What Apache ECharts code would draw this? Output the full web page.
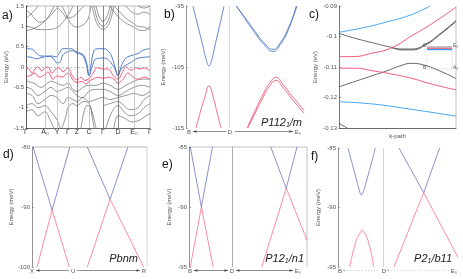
<!DOCTYPE html>
<html><head><meta charset="utf-8">
<script src="https://cdn.jsdelivr.net/npm/echarts@6/dist/echarts.min.js"></script>
<style>html,body{margin:0;padding:0;background:#fff}#c{width:463px;height:279px}</style>
</head><body><div id="c"></div>
<script>
// ---------- Panel a : band structure (eV) ----------
const aTicks = [0,19,31,42,51,63,77,92,108,124];
const aTickLabels = ['Γ','A₀','Y','Γ','Z','C','Γ','D','E₀','Γ'];
const aDark = [51,77,92];
const aBlue1 = [[0,.45],[6,.44],[10,.35],[15,.27],[26,.27],[30,.25],[33,.33],[37,.45],[45,.45],[50,.38],[55,.33],[58,.28],[61,.05],[63,-.2],[65,.05],[68,.4],[72,.45],[78,.45],[81,.42],[85,.3],[89,0],[92,-.2],[95,0],[99,.2],[105,.28],[112,.33],[118,.42],[124,.45]];
const aBlue2 = [[0,.25],[5,.24],[10,.2],[15,.23],[22,.26],[27,.22],[31,.1],[34,.12],[37,.3],[42,.38],[47,.4],[51,.34],[56,.3],[60,.1],[63,-.22],[66,0],[70,.2],[77,.22],[81,.2],[85,.1],[89,-.05],[92,-.22],[95,-.05],[99,.03],[104,.1],[110,.2],[118,.24],[124,.25]];
const aRed1 = [[0,-.02],[3,-.05],[6,-.15],[9,-.05],[12,0],[16,-.1],[19,-.02],[22,0],[26,-.15],[30,-.05],[33,-.02],[37,-.12],[42,-.02],[46,-.2],[51,-.32],[55,-.25],[59,-.33],[63,-.28],[67,-.15],[71,-.02],[77,-.05],[82,-.05],[87,-.2],[92,-.3],[96,-.15],[100,0],[105,-.08],[110,-.02],[114,-.05],[118,-.02],[124,-.1]];
const aRed2 = [[0,-.25],[5,-.2],[9,-.15],[13,-.25],[18,-.2],[22,-.12],[27,-.3],[31,-.22],[36,-.25],[42,-.15],[47,-.32],[51,-.38],[56,-.35],[60,-.42],[63,-.35],[67,-.3],[72,-.25],[77,-.28],[83,-.25],[88,-.3],[92,-.4],[97,-.3],[102,-.15],[107,-.25],[112,-.3],[118,-.25],[124,-.3]];
const aBlack = [
 [[0,1.0],[5,.98],[10,.93],[18,.92],[26,.93],[31,.97],[35,1.05],[40,1.2],[44,1.35],[47,1.5]],
 [[0,.9],[5,.92],[10,.97],[15,1.05],[20,1.15],[26,1.3],[30,1.42],[33,1.5]],
 [[0,1.2],[4,1.28],[8,1.38],[12,1.5]],
 [[0,1.4],[5,1.3],[9,1.18],[14,1.1],[19,1.15],[24,1.3],[28,1.5]],
 [[36,1.5],[40,1.3],[44,1.1],[48,1.0],[51,.98],[56,1.02],[60,1.1],[63,1.25],[65,1.5]],
 [[30,1.5],[36,1.35],[42,1.2],[48,1.25],[54,1.4],[58,1.5]],
 [[66,1.5],[69,1.2],[72,1.02],[77,.93],[82,1.02],[85,1.2],[88,1.5]],
 [[68,1.5],[71,1.2],[74,1.05],[77,1.0],[80,1.05],[83,1.2],[86,1.5]],
 [[70,1.5],[73,1.25],[77,1.12],[81,1.25],[84,1.5]],
 [[84,1.5],[90,1.3],[96,1.15],[102,1.05],[108,.98],[114,.9],[119,.9],[124,1.0]],
 [[88,1.5],[94,1.35],[100,1.2],[106,1.1],[112,1.0],[118,.98],[124,.92]],
 [[100,1.5],[106,1.35],[112,1.3],[118,1.35],[124,1.3]],
 [[112,1.5],[118,1.45],[124,1.5]],
 [[0,-.35],[8,-.4],[15,-.5],[19,-.45],[25,-.35],[31,-.4],[37,-.45],[42,-.4],[47,-.55],[51,-.6],[57,-.5],[63,-.45],[70,-.45],[77,-.4],[84,-.45],[92,-.55],[100,-.45],[108,-.35],[116,-.3],[124,-.3]],
 [[0,-.5],[6,-.55],[12,-.7],[19,-.6],[25,-.5],[31,-.6],[37,-.55],[42,-.5],[47,-.6],[51,-.7],[56,-.75],[63,-.6],[70,-.55],[77,-.55],[84,-.6],[92,-.7],[100,-.6],[108,-.5],[116,-.45],[124,-.5]],
 [[0,-.65],[6,-.7],[12,-.9],[19,-.8],[25,-.7],[31,-.75],[37,-.9],[42,-.75],[47,-.8],[51,-.85],[57,-.75],[63,-.85],[70,-.8],[77,-.75],[84,-.8],[92,-.75],[100,-.7],[108,-.65],[116,-.7],[124,-.6]],
 [[0,-.95],[6,-.9],[12,-1.0],[19,-.95],[25,-1.1],[31,-1.3],[34,-1.5]],
 [[0,-1.1],[6,-1.05],[12,-1.2],[19,-1.1],[24,-1.3],[28,-1.5]],
 [[36,-1.5],[40,-1.2],[42,-1.0],[47,-.9],[51,-.95],[57,-.85],[63,-.9],[66,-1.2],[68,-1.5]],
 [[55,-1.5],[58,-1.1],[61,-.95],[63,-.95],[66,-1.1],[70,-1.5]],
 [[77,-.95],[84,-.9],[92,-.85],[98,-.95],[104,-1.05],[112,-1.0],[118,-.8],[124,-.7]],
 [[80,-1.5],[86,-1.1],[92,-.95],[98,-1.1],[104,-1.2],[112,-1.15],[118,-1.0],[124,-.9]],
 [[88,-1.5],[92,-1.2],[98,-1.25],[106,-1.35],[114,-1.3],[120,-1.2],[124,-1.15]]
];

// ---------- Panel b : P112_1/m (meV) ----------
const bTicks = [0.025,0.373,0.949];
const bTickLabels = ['B','D','E₀'];
const bD = 0.373;
const bBlue1 = [[.059,-95],[.1,-98.2],[.14,-101.3],[.17,-103.7],[.195,-104.8],[.22,-103.7],[.25,-101.1],[.29,-97.8],[.322,-95]];
const bRed1 = [[.085,-115],[.12,-112.5],[.16,-109.9],[.195,-108.1],[.23,-109.9],[.265,-112.6],[.297,-115]];
const bBlue2a = [[.424,-95],[.5,-96.9],[.58,-99.0],[.66,-101.0],[.737,-102.1],[.8,-101.0],[.87,-98.5],[.94,-95]];
const bBlue2b = [[.43,-95],[.5,-97.1],[.58,-99.3],[.66,-101.3],[.737,-102.45],[.8,-101.3],[.87,-98.8],[.935,-95]];
const bRed2a = [[.517,-115],[.58,-112.4],[.65,-109.6],[.71,-107.6],[.763,-106.7],[.82,-107.8],[.9,-109.8],[1,-112.1]];
const bRed2b = [[.525,-115],[.58,-112.8],[.65,-110.1],[.71,-108.1],[.763,-107.2],[.82,-108.3],[.9,-110.3],[1,-112.6]];

// ---------- Panel c : k-path (eV) ----------
const cLBlue1 = [[0,-.0986],[.2,-.0972],[.4,-.0953],[.6,-.0931],[.78,-.09]];
const cBlack1 = [[0,-.099],[.14,-.1006],[.28,-.102],[.42,-.1033],[.54,-.1041],[.62,-.1041],[.74,-.1025],[.85,-.0995],[1,-.0948]];
const cBlack1b = [[.45,-.1036],[.54,-.1044],[.62,-.1044],[.74,-.1028],[.85,-.0998],[1,-.0951]];
const cRed1 = [[0,-.1066],[.11,-.1066],[.28,-.1055],[.45,-.1037],[.62,-.0998],[.79,-.0959],[1,-.0904]];
const cRed2 = [[0,-.1104],[.14,-.1104],[.28,-.1112],[.45,-.1123],[.62,-.1137],[.79,-.1156],[1,-.1175]];
const cBlack2 = [[0,-.1165],[.14,-.1147],[.28,-.1129],[.42,-.1111],[.54,-.1094],[.62,-.1088],[.71,-.1092],[.85,-.1111],[1,-.1138]];
const cLBlue2 = [[0,-.1214],[.28,-.1221],[.57,-.1236],[.85,-.1252],[1,-.1261]];
const cBlack3 = [[0,-.1285],[.07,-.13]];

// ---------- Panel d : Pbnm (meV) ----------
const dTicks = [0,0.357,0.974];
const dTickLabels = ['X','U','R'];
const dBlue = [[[.009,-80],[.175,-90.5]],[[.175,-90.5],[.329,-80]],[[.481,-80],[.679,-88.7]],[[.679,-88.7],[.834,-80]]];
const dRed = [[[.044,-100],[.175,-90.5]],[[.175,-90.5],[.324,-100]],[[.481,-100],[.679,-88.7]],[[.679,-88.7],[.971,-100]]];

// ---------- Panel e : P12_1/n1 (meV) ----------
const eTicks = [0.008,0.364,0.924];
const eTickLabels = ['B','D','E₀'];
const eD = 0.366;
const eBlue = [[[.011,-85],[.105,-90]],[[.105,-90],[.199,-85]],[[.693,-85],[.824,-88.44]],[[.824,-88.44],[.915,-85]]];
const eRed = [[[.011,-95],[.105,-90]],[[.105,-90],[.205,-95]],[[.616,-95],[.824,-88.44]],[[.824,-88.44],[1,-92.77]]];

// ---------- Panel f : P2_1/b11 (meV) ----------
const fTicks = [0.017,0.383,0.967];
const fTickLabels = ['B','D','E₀'];
const fD = 0.381;
const fBlue1 = [[.083,-85],[.139,-87.1],[.181,-88.66],[.194,-88.94],[.211,-88.66],[.256,-87.1],[.311,-85]];
const fRed1 = [[.097,-95],[.153,-92.75],[.189,-92.04],[.2,-91.9],[.214,-92.04],[.25,-92.75],[.297,-95]];
const fBlue2 = [[[.508,-85],[.714,-88.75]],[[.714,-88.75],[.847,-85]]];
const fRed2 = [[[.467,-95],[.714,-88.75]],[[.714,-88.75],[1,-94.2]]];

// ---------- layout ----------
const G = [
 {left:26, top:6, width:124, height:122},
 {left:186, top:6, width:118, height:122},
 {left:339, top:6, width:117, height:122},
 {left:32, top:147, width:115, height:120},
 {left:189, top:147, width:118, height:120},
 {left:338, top:148, width:120, height:119}
];
const BLUE = '#3f6fc2', RED = '#f2486c', LBLUE = '#2f9ef5', BLK = '#505050';
const BLUE2 = '#5a62b8', RED2 = '#ff5a78';
const FONT = 'Liberation Sans, Arial, sans-serif';

function line(data, i, color, w, smooth, z){
  return {type:'line', xAxisIndex:i, yAxisIndex:i, data, symbol:'none', showSymbol:false,
    smooth: smooth||false, lineStyle:{color, width:w}, silent:true, clip:true, z: z||2, animation:false};
}
function vline(i, xs, colors, w){
  return {type:'line', xAxisIndex:i, yAxisIndex:i, data:[], silent:true, z:1,
    markLine:{silent:true, symbol:'none', animation:false, label:{show:false},
      data: xs.map((x,j)=>({xAxis:x, lineStyle:{color:colors[j], width:w, type:'solid'}}))}};
}
function xAx(i, min, max, ticks, labels, fs, color, showLine){
  return {type:'value', gridIndex:i, min, max, axisLine:{show:!!showLine, onZero:false, lineStyle:{color:'#444', width:0.8}},
    axisTick:{show:false}, splitLine:{show:false},
    axisLabel: ticks ? {customValues:ticks, fontSize:fs, color, margin:1, fontFamily:FONT,
      formatter:(v)=>{let k=ticks.findIndex(t=>Math.abs(t-v)<1e-6); return k>=0?labels[k]:'';}} : {show:false}};
}
function yAx(i, min, max, opts){
  const o = {type:'value', gridIndex:i, min, max, splitLine:{show:false},
    axisLine:{show:true, onZero:false, lineStyle:{color: opts.lc||'#777', width:0.8}},
    axisTick:{show:true, inside:true, length:2, lineStyle:{color:opts.lc||'#777', width:0.6}},
    axisLabel:{fontSize:6, color:'#555', margin:2, fontFamily:FONT},
    name: opts.name, nameLocation:'middle', nameGap: opts.gap, nameRotate:90,
    nameTextStyle:{fontSize:6, color:'#555', fontFamily:FONT}};
  if (opts.interval) o.interval = opts.interval;
  if (opts.custom) { o.axisLabel.customValues = opts.custom; o.axisTick.customValues = opts.custom; }
  return o;
}

const series = [];
// a
series.push(vline(0, aTicks.slice(1,9), aTicks.slice(1,9).map(k=>aDark.includes(k)?'#666':'#bbb'), 0.8));
series.push({type:'line', xAxisIndex:0, yAxisIndex:0, data:[], silent:true, z:1,
  markLine:{silent:true, symbol:'none', animation:false, label:{show:false},
    data:[{yAxis:0, lineStyle:{color:'#999', width:0.6, type:[2,2]}}]}});
aBlack.forEach(b=>series.push(line(b,0,BLK,0.6,0.4)));
[aRed1,aRed2].forEach(b=>series.push(line(b,0,RED,0.9,0.4,3)));
[aBlue1,aBlue2].forEach(b=>series.push(line(b,0,BLUE,0.9,0.4,3)));
// b
series.push(vline(1,[bD],['#ccc'],0.8));
[bBlue1,bBlue2a,bBlue2b].forEach(b=>series.push(line(b,1,BLUE,0.8,0.5)));
[bRed1,bRed2a,bRed2b].forEach(b=>series.push(line(b,1,RED,0.8,0.5)));
// c
[cBlack1,cBlack1b,cBlack2,cBlack3].forEach(b=>series.push(line(b,2,'#404040',0.8,0.5)));
[cRed1,cRed2].forEach(b=>series.push(line(b,2,RED,0.9,0.5,3)));
[cLBlue1,cLBlue2].forEach(b=>series.push(line(b,2,LBLUE,0.9,0.5,3)));
// d
dBlue.forEach(b=>series.push(line(b,3,BLUE2,0.7)));
dRed.forEach(b=>series.push(line(b,3,RED2,0.7)));
// e
series.push(vline(4,[eD],['#999'],0.8));
eBlue.forEach(b=>series.push(line(b,4,BLUE2,0.7)));
eRed.forEach(b=>series.push(line(b,4,RED2,0.7)));
// f
series.push(vline(5,[fD],['#ccc'],0.8));
series.push(line(fBlue1,5,BLUE2,0.7,0.5));
series.push(line(fRed1,5,RED2,0.7,0.5));
fBlue2.forEach(b=>series.push(line(b,5,BLUE2,0.7)));
fRed2.forEach(b=>series.push(line(b,5,RED2,0.7)));

const option = {
  animation:false,
  backgroundColor:'#fff',
  textStyle:{fontFamily:FONT},
  grid: G.map(g=>Object.assign({containLabel:false, show:false}, g)),
  xAxis: [
    xAx(0,0,124,aTicks,aTickLabels,7,'#333',true),
    xAx(1,0,1,bTicks,bTickLabels,6,'#555',false),
    Object.assign(xAx(2,0,1,null,null,6,'#555',true),{name:'k-path', nameLocation:'middle', nameGap:5, nameTextStyle:{fontSize:6,color:'#555',fontFamily:FONT}}),
    xAx(3,0,1,dTicks,dTickLabels,6,'#555',false),
    xAx(4,0,1,eTicks,eTickLabels,6,'#555',false),
    xAx(5,0,1,fTicks,fTickLabels,6,'#555',false)
  ],
  yAxis: [
    yAx(0,-1.5,1.5,{interval:0.5,name:'Energy (eV)',gap:15,lc:'#333'}),
    yAx(1,-115,-95,{custom:[-115,-105,-95],name:'Energy (meV)',gap:20}),
    yAx(2,-0.13,-0.09,{interval:0.01,name:'Energy (eV)',gap:21,lc:'#555'}),
    yAx(3,-100,-80,{interval:10,name:'Energy (meV)',gap:17}),
    yAx(4,-95,-85,{interval:5,name:'Energy (meV)',gap:17}),
    yAx(5,-95,-85,{interval:5,name:'Energy (meV)',gap:17})
  ],
  series
};

const chart = echarts.init(document.getElementById('c'), null, {renderer:'canvas', width:463, height:279});
chart.setOption(option);

// ---------- decorations ----------
const gr = [];
function L(x1,y1,x2,y2,color,w,dash){ gr.push({type:'line', silent:true, shape:{x1,y1,x2,y2}, style:{stroke:color, lineWidth:w, lineDash:dash||null}}); }
function head(x,y,dir,color){ gr.push({type:'polygon', silent:true, shape:{points:[[x,y],[x-dir*3.5,y-1.3],[x-dir*3.5,y+1.3]]}, style:{fill:color}}); }
function T(x,y,text,fs,opts){ gr.push({type:'text', silent:true, x, y, style:Object.assign({text, fontSize:fs, fill:'#111', fontFamily:FONT, textVerticalAlign:'middle'}, opts||{})}); }
function px(i,v){ return chart.convertToPixel({xAxisIndex:i}, v); }

// borders
L(26,6,150,6,'#888',0.6); L(150,6,150,128,'#888',0.6);
L(456,6,456,128,'#999',0.6);
L(32,147,147,147,'#999',0.7); L(147,147,147,267,'#bbb',0.6);
L(189,147,307,147,'#999',0.6); L(307,147,307,267,'#999',0.6);

// k-path arrows
function arrowSeg(x1,x2,y,hl,hr,color,dash){ L(x1,y,x2,y,color,0.6,dash); if(hl) head(x1,y,-1,color); if(hr) head(x2,y,1,color); }
{ const y=131.5, b=bTicks.map(t=>px(1,t)); arrowSeg(b[0]+4,b[1]-4,y,true,false,'#444'); arrowSeg(b[1]+5,b[2]-5,y,false,true,'#444'); }
{ const y=270.5, d=dTicks.map(t=>px(3,t)); arrowSeg(d[0]+4,d[1]-4,y,true,false,'#444'); arrowSeg(d[1]+4,d[2]-4,y,false,true,'#444'); }
{ const y=270.5, e=eTicks.map(t=>px(4,t)); arrowSeg(e[0]+4,e[1]-4,y,true,true,'#444'); arrowSeg(e[1]+4,e[2]-5,y,true,true,'#444'); }
{ const y=270.5, f=fTicks.map(t=>px(5,t)); arrowSeg(f[0]+4,f[1]-4,y,false,false,'#aaa',[1,2]); arrowSeg(f[1]+4,f[2]-5,y,false,false,'#aaa',[1,2]);
  gr.push({type:'circle',silent:true,shape:{cx:f[0]+4,cy:y,r:0.8},style:{fill:'#888'}});
  gr.push({type:'circle',silent:true,shape:{cx:f[1]+4,cy:y,r:0.8},style:{fill:'#888'}}); }

// panel letters
T(2,16,'a)',12); T(164,15,'b)',12); T(309,15,'c)',12);
T(3,155,'d)',12); T(162,165,'e)',12); T(311,157,'f)',12);

// space group labels (italic with subscript)
const rich = {i:{fontSize:11, fontStyle:'italic', fontFamily:FONT, fill:'#222'}, s:{fontSize:7, fontStyle:'italic', fontFamily:FONT, fill:'#222', padding:[5,0,0,0]}};
function SG(x,y,str){ gr.push({type:'text', silent:true, x, y, style:{text:str, rich, textVerticalAlign:'middle', textAlign:'right'}}); }
SG(302,123,'{i|P112}{s|1}{i|/m}');
SG(138,259,'{i|Pbnm}');
SG(304,259,'{i|P12}{s|1}{i|/n1}');
SG(452,259,'{i|P2}{s|1}{i|/b11}');

// inset in panel c
L(427,58,427,69,'#aaa',0.5,[1,1]); L(427,69,452,69,'#aaa',0.5,[1,1]); L(452,48,452,69,'#aaa',0.5,[1,1]);
L(427,47,452,47,'#888',1); L(427,48.3,452,48.3,RED,1); L(427,49.6,452,49.6,LBLUE,1.2);
T(423,46,'C',5,{fill:'#555'}); T(453,46,'E₀',5,{fill:'#555'});
T(423,68,'B',5,{fill:'#555'}); T(453,68,'A₀',5,{fill:'#555'});

chart.setOption({graphic: gr});
</script></body></html>
